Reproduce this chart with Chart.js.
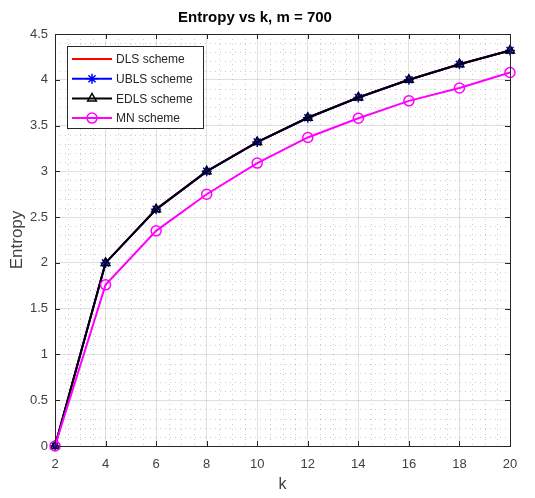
<!DOCTYPE html>
<html>
<head>
<meta charset="utf-8">
<script src="https://cdn.jsdelivr.net/npm/chart.js@4.4.0/dist/chart.umd.min.js"></script>
<style>
  html, body { margin: 0; padding: 0; background: #fff; }
  #wrap { width: 535px; height: 498px; }
</style>
</head>
<body>
<div id="wrap"><canvas id="entropyChart"></canvas></div>
<script>
// データ
const kValues = [2, 4, 6, 8, 10, 12, 14, 16, 18, 20];
const dlsEntropy  = [0, 2.00, 2.585, 3.00, 3.32, 3.585, 3.807, 4.00, 4.17, 4.32];
const ublsEntropy = [0, 2.00, 2.585, 3.00, 3.32, 3.585, 3.807, 4.00, 4.17, 4.32];
const edlsEntropy = [0, 2.00, 2.585, 3.00, 3.32, 3.585, 3.807, 4.00, 4.17, 4.32];
const mnEntropy   = [0, 1.76, 2.35, 2.75, 3.09, 3.37, 3.58, 3.77, 3.91, 4.08];
const xTicks = [2, 4, 6, 8, 10, 12, 14, 16, 18, 20];
const yTicks = [0, 0.5, 1, 1.5, 2, 2.5, 3, 3.5, 4, 4.5];

const FONT = '"Liberation Sans", Arial, sans-serif';
const AXIS_COLOR = '#262626';

const toPoints = arr => arr.map((v, i) => ({ x: kValues[i], y: v }));

// MATLAB風の補助目盛り・枠・凡例
const matlabStyle = {
  id: 'matlabStyle',
  beforeDatasetsDraw(chart) {
    const { ctx, chartArea: a, scales: { x, y } } = chart;
    ctx.save();
    ctx.strokeStyle = 'rgba(0,0,0,0.2)';
    ctx.lineWidth = 1;
    ctx.setLineDash([1, 4]);
    // 縦の補助線（0.5刻み）
    for (let v = 2; v < 20; v += 0.5) {
      if (v % 2 === 0) continue;
      const px = Math.round(x.getPixelForValue(v)) + 0.5;
      ctx.beginPath(); ctx.moveTo(px, a.top); ctx.lineTo(px, a.bottom); ctx.stroke();
    }
    // 横の補助線（0.1刻み）
    for (let i = 1; i < 45; i++) {
      if (i % 5 === 0) continue;
      const py = Math.round(y.getPixelForValue(i / 10)) + 0.5;
      ctx.beginPath(); ctx.moveTo(a.left, py); ctx.lineTo(a.right, py); ctx.stroke();
    }
    ctx.restore();
  },
  afterDraw(chart) {
    const { ctx, chartArea: a, scales: { x, y } } = chart;
    ctx.save();
    // 枠
    ctx.strokeStyle = AXIS_COLOR;
    ctx.lineWidth = 1;
    ctx.strokeRect(a.left + 0.5, a.top + 0.5, a.right - a.left, a.bottom - a.top);
    // 内向きの目盛り
    ctx.beginPath();
    xTicks.forEach(v => {
      const px = Math.round(x.getPixelForValue(v)) + 0.5;
      ctx.moveTo(px, a.bottom); ctx.lineTo(px, a.bottom - 5);
      ctx.moveTo(px, a.top); ctx.lineTo(px, a.top + 5);
    });
    yTicks.forEach(v => {
      const py = Math.round(y.getPixelForValue(v)) + 0.5;
      ctx.moveTo(a.left, py); ctx.lineTo(a.left + 5, py);
      ctx.moveTo(a.right, py); ctx.lineTo(a.right - 5, py);
    });
    ctx.stroke();

    // 凡例（枠内左上）
    const lx = 67, ly = 46, lw = 136, lh = 82;
    ctx.fillStyle = '#fff';
    ctx.fillRect(lx, ly, lw, lh);
    ctx.strokeStyle = AXIS_COLOR;
    ctx.lineWidth = 1;
    ctx.strokeRect(lx + 0.5, ly + 0.5, lw, lh);
    ctx.font = '12px ' + FONT;
    ctx.textBaseline = 'middle';
    chart.data.datasets.forEach((ds, i) => {
      const cy = ly + 13 + i * 19.7;
      ctx.strokeStyle = ds.borderColor;
      ctx.lineWidth = 2;
      ctx.beginPath(); ctx.moveTo(72, cy); ctx.lineTo(112, cy); ctx.stroke();
      if (ds.pointRadius > 0) {
        ctx.strokeStyle = ds.pointBorderColor;
        ctx.fillStyle = ds.pointBackgroundColor;
        ctx.lineWidth = ds.pointBorderWidth;
        Chart.helpers.drawPoint(ctx, {
          pointStyle: ds.pointStyle, radius: ds.pointRadius,
          borderWidth: ds.pointBorderWidth, rotation: 0
        }, 92, cy);
      }
      ctx.fillStyle = AXIS_COLOR;
      ctx.fillText(ds.label, 116, cy + 1);
    });
    ctx.restore();
  }
};

const ctx = document.getElementById('entropyChart');

new Chart(ctx, {
  type: 'line',
  data: {
    datasets: [
      {
        label: 'DLS scheme',
        data: toPoints(dlsEntropy),
        borderColor: '#ff0000',
        borderWidth: 2,
        pointRadius: 0,
        clip: false,
        order: 4
      },
      {
        label: 'UBLS scheme',
        data: toPoints(ublsEntropy),
        borderColor: '#0000ff',
        borderWidth: 2,
        pointStyle: 'star',
        pointRadius: 5,
        pointBorderWidth: 1.5,
        pointBorderColor: '#0000ff',
        pointBackgroundColor: '#0000ff',
        clip: false,
        order: 3
      },
      {
        label: 'EDLS scheme',
        data: toPoints(edlsEntropy),
        borderColor: '#000000',
        borderWidth: 2,
        pointStyle: 'triangle',
        pointRadius: 5,
        pointBorderWidth: 1.5,
        pointBorderColor: '#000000',
        pointBackgroundColor: 'rgba(0,0,0,0)',
        clip: false,
        order: 2
      },
      {
        label: 'MN scheme',
        data: toPoints(mnEntropy),
        borderColor: '#ff00ff',
        borderWidth: 2,
        pointStyle: 'circle',
        pointRadius: 5,
        pointBorderWidth: 1.5,
        pointBorderColor: '#ff00ff',
        pointBackgroundColor: 'rgba(0,0,0,0)',
        clip: false,
        order: 1
      }
    ]
  },
  options: {
    responsive: true,
    maintainAspectRatio: false,
    animation: false,
    layout: { padding: { left: 0, right: 25, top: 0, bottom: 0 } },
    plugins: {
      legend: { display: false },
      tooltip: { enabled: false },
      title: {
        display: true,
        text: 'Entropy vs k, m = 700',
        color: '#000',
        font: { family: FONT, size: 15, weight: 'bold' },
        padding: { top: 9, bottom: 7 }
      }
    },
    scales: {
      x: {
        type: 'linear',
        min: 2,
        max: 20,
        afterBuildTicks: s => { s.ticks = xTicks.map(v => ({ value: v })); },
        afterFit: s => { s.height = 52; },
        ticks: {
          color: '#404040',
          font: { family: FONT, size: 13 },
          padding: 11,
          maxRotation: 0,
          callback: v => String(v)
        },
        grid: { color: 'rgba(0,0,0,0.12)', drawTicks: false },
        border: { display: false },
        title: {
          display: true,
          text: 'k',
          color: '#404040',
          font: { family: FONT, size: 16 },
          padding: { top: 5 }
        }
      },
      y: {
        type: 'linear',
        min: 0,
        max: 4.5,
        afterBuildTicks: s => { s.ticks = yTicks.map(v => ({ value: v })); },
        afterFit: s => { s.width = 55; },
        ticks: {
          color: '#404040',
          font: { family: FONT, size: 13 },
          padding: 7,
          callback: v => String(v)
        },
        grid: { color: 'rgba(0,0,0,0.12)', drawTicks: false },
        border: { display: false },
        title: {
          display: true,
          text: 'Entropy',
          color: '#404040',
          font: { family: FONT, size: 17 },
          padding: { top: 7, bottom: 0 }
        }
      }
    }
  },
  plugins: [matlabStyle]
});
</script>
</body>
</html>
